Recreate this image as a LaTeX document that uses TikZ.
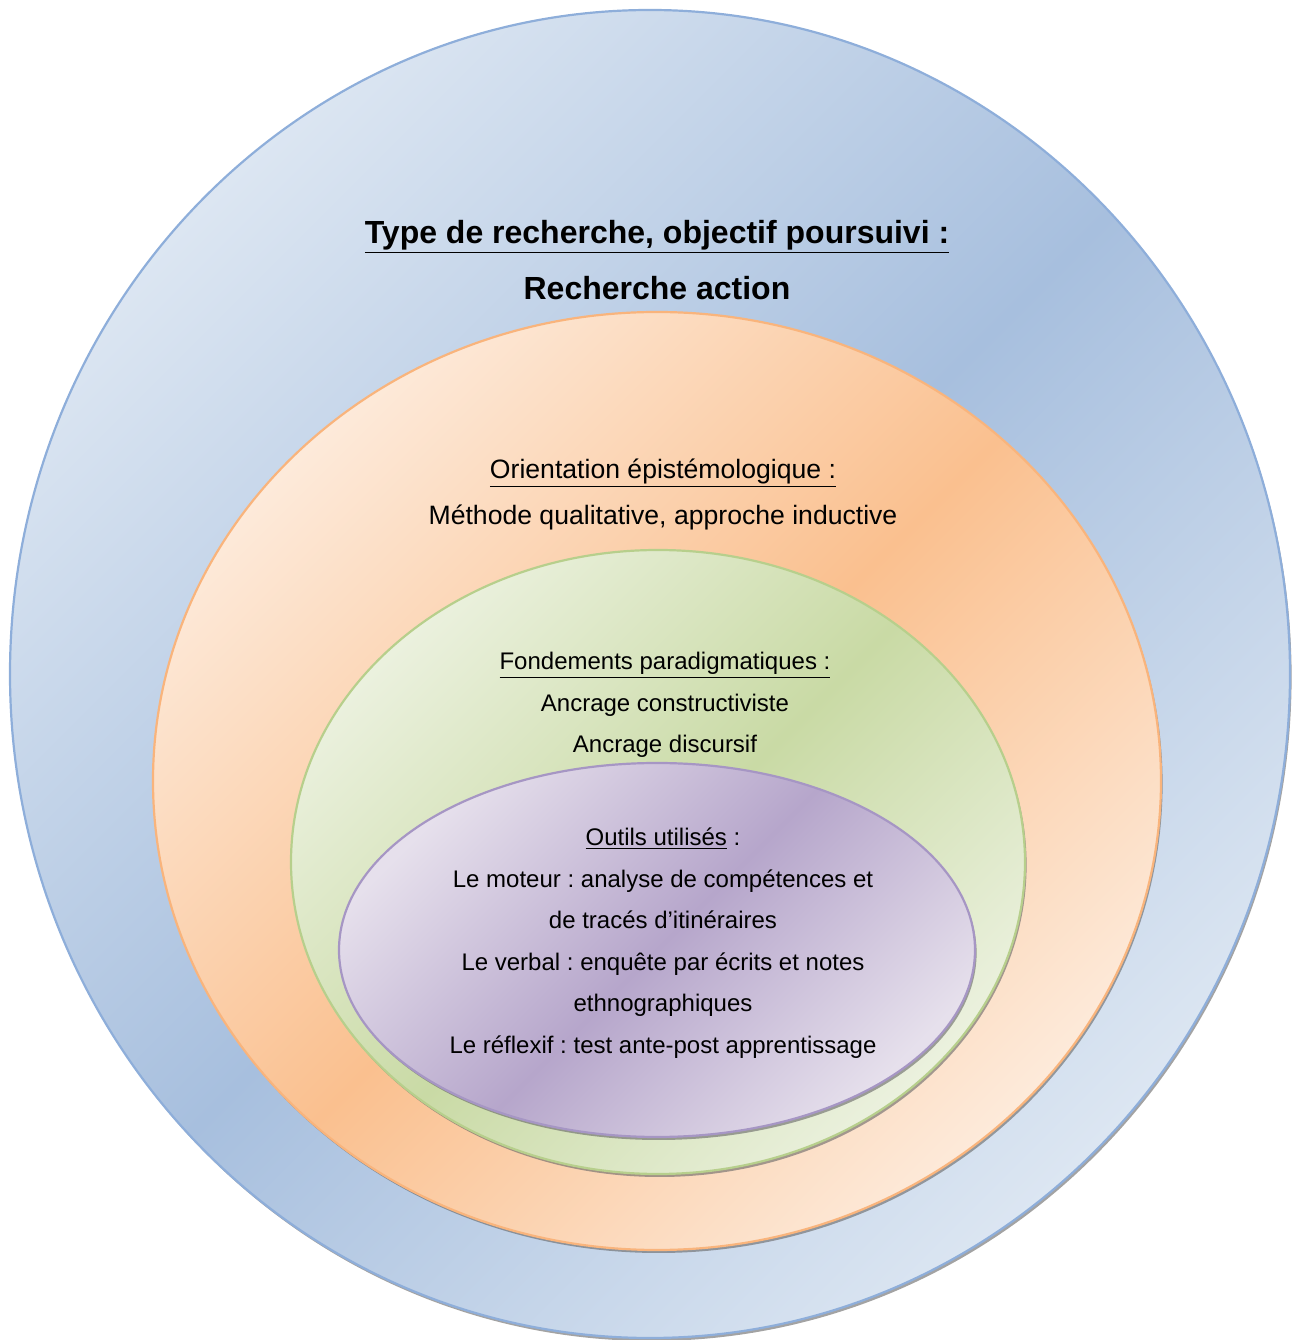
\documentclass[tikz,border=0pt]{standalone}
\usepackage{fontspec}
\setmainfont{Liberation Sans}
\usetikzlibrary{shadows}
\frenchspacing
\definecolor{bleuC}{HTML}{DCE6F2}
\definecolor{bleuF}{HTML}{A7BFDE}
\definecolor{bleuT}{HTML}{8EAEDA}
\definecolor{orangeC}{HTML}{FDEADA}
\definecolor{orangeF}{HTML}{FAC08F}
\definecolor{orangeT}{HTML}{F9B47C}
\definecolor{vertC}{HTML}{EBF1DE}
\definecolor{vertF}{HTML}{C9DAA5}
\definecolor{vertT}{HTML}{B7CF8C}
\definecolor{violetC}{HTML}{E6E0EC}
\definecolor{violetF}{HTML}{B6A6CB}
\definecolor{violetT}{HTML}{A696C4}
\begin{document}
\begin{tikzpicture}[x=0.5pt,y=0.5pt,
    anneau/.style n args={3}{line width=1.1pt, draw=#3,
      top color=#1, bottom color=#1, middle color=#2, shading angle=45,
      drop shadow={shadow xshift=0.8pt,shadow yshift=-1.5pt,opacity=0.6,fill=black!60}},
    titre/.style={align=center, font=\fontsize{16}{28}\selectfont\bfseries}]
  \useasboundingbox (0,0) rectangle (1297,1340);
  \draw[anneau={bleuC}{bleuF}{bleuT}] (650,666) ellipse [x radius=640, y radius=664];
  \draw[anneau={orangeC}{orangeF}{orangeT}] (657,559) ellipse [x radius=504, y radius=469];
  \draw[anneau={vertC}{vertF}{vertT}] (658,478) ellipse [x radius=367, y radius=312];
  \draw[anneau={violetC}{violetF}{violetT}] (657,390) ellipse [x radius=318, y radius=187];
  \node[titre] (type) at (657,1080) {\underline{Type de recherche, objectif poursuivi :}\\Recherche action};
  \node[align=center, font=\fontsize{13.3}{23}\selectfont] (orient) at (663,846) {\underline{Orientation épistémologique :}\\Méthode qualitative, approche inductive};
  \node[align=center, font=\fontsize{12}{20.75}\selectfont] (fond) at (665,635) {\underline{Fondements paradigmatiques :}\\Ancrage constructiviste\\Ancrage discursif};
  \node[align=center, font=\fontsize{12}{20.75}\selectfont] (outils) at (663,397) {\underline{Outils utilisés} :\\Le moteur : analyse de compétences et\\de tracés d’itinéraires\\Le verbal : enquête par écrits et notes\\ethnographiques\\Le réflexif : test ante-post apprentissage};
\end{tikzpicture}
\end{document}
